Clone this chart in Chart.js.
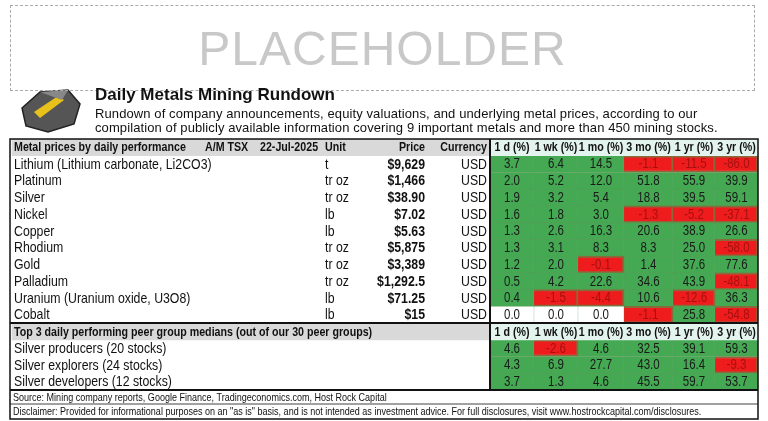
<!DOCTYPE html>
<html><head><meta charset="utf-8">
<script src="https://cdn.jsdelivr.net/npm/chart.js@4"></script>
<style>
html,body{margin:0;padding:0;background:#fff;width:768px;height:421px;overflow:hidden}
#wrap{position:absolute;left:0;top:0;width:768px;height:421px}
.ph{position:absolute;left:10px;top:5px;width:745px;height:86px;border:1.5px dashed #aaa;box-sizing:border-box;
 font:48px "Liberation Sans",Arial,sans-serif;color:#c8c8c8;text-align:center;line-height:86px;letter-spacing:1px}
.t{position:absolute;left:95px;top:85px;font:bold 17px "Liberation Sans",Arial,sans-serif;color:#111}
.s{position:absolute;left:95px;top:107px;font:13px "Liberation Sans",Arial,sans-serif;color:#111;line-height:14px;letter-spacing:0.1px}
</style></head><body>
<div id="wrap"><canvas id="c" width="768" height="421"></canvas></div>
<div class="ph">PLACEHOLDER</div>
<div class="t">Daily Metals Mining Rundown</div>
<div class="s">Rundown of company announcements, equity valuations, and underlying metal prices, according to our<br>compilation of publicly available information covering 9 important metals and more than 450 mining stocks.</div>
<script>
const metals=["Lithium (Lithium carbonate, Li2CO3)","Platinum","Silver","Nickel","Copper","Rhodium","Gold","Palladium","Uranium (Uranium oxide, U3O8)","Cobalt"];
const units=["t","tr oz","tr oz","lb","lb","tr oz","tr oz","tr oz","lb","lb"];
const prices=["$9,629","$1,466","$38.90","$7.02","$5.63","$5,875","$3,389","$1,292.5","$71.25","$15"];
const currency="USD";
const periods=["1 d (%)","1 wk (%)","1 mo (%)","3 mo (%)","1 yr (%)","3 yr (%)"];
const m1d=[3.7,2.0,1.9,1.6,1.3,1.3,1.2,0.5,0.4,0.0];
const m1wk=[6.4,5.2,3.2,1.8,2.6,3.1,2.0,4.2,-1.5,0.0];
const m1mo=[14.5,12.0,5.4,3.0,16.3,8.3,-0.1,22.6,-4.4,0.0];
const m3mo=[-1.1,51.8,18.8,-1.3,20.6,8.3,1.4,34.6,10.6,-1.1];
const m1yr=[-11.5,55.9,39.5,-5.2,38.9,25.0,37.6,43.9,-12.6,25.8];
const m3yr=[-86.0,39.9,59.1,-37.1,26.6,-58.0,77.6,-48.1,36.3,-54.8];
const peers=["Silver producers (20 stocks)","Silver explorers (24 stocks)","Silver developers (12 stocks)"];
const p1d=[4.6,4.3,3.7];
const p1wk=[-2.6,6.9,1.3];
const p1mo=[4.6,27.7,4.6];
const p3mo=[32.5,43.0,45.5];
const p1yr=[39.1,16.4,59.7];
const p3yr=[59.3,-9.3,53.7];
const header1="Metal prices by daily performance", header2="Top 3 daily performing peer group medians (out of our 30 peer groups)";
const source="Source: Mining company reports, Google Finance, Tradingeconomics.com, Host Rock Capital";
const disclaimer='Disclaimer: Provided for informational purposes on an "as is" basis, and is not intended as investment advice. For full disclosures, visit www.hostrockcapital.com/disclosures.';

const edges=[490,534,578,624,673,715,758];
const cols=[m1d,m1wk,m1mo,m3mo,m1yr,m3yr].map((m,i)=>m.concat([null],[p1d,p1wk,p1mo,p3mo,p1yr,p3yr][i]));
const rowLabels=["h1",...metals,"h2",...peers];
function rowVals(c){return [null,...cols[c]];}
const GREEN="#45a853",RED="#ee1c1c";
const datasets=[];
datasets.push({data:rowLabels.map((r,i)=>(i===0||i===11)?[12,490]:null),backgroundColor:"#d9d9d9",borderWidth:0});
datasets.push({data:rowLabels.map((r,i)=>(i===0||i===11)?[490,758]:null),backgroundColor:"#e3f3ee",borderWidth:0});
for(let c=0;c<6;c++){
 const v=rowVals(c);
 datasets.push({data:v.map(x=>x===null?null:[edges[c],edges[c+1]]),
  backgroundColor:v.map(x=>x===null?null:(x<0?RED:(x===0?"#ffffff":GREEN))),
  borderColor:v.map(x=>x===null?null:(x<0?"#8a6a3a":"#5a9a5a")),
  borderWidth:v.map(x=>x===null?0:(x<0?2:0.5))});
}
const F="'Liberation Sans',Arial,sans-serif";
const SX=0.82;
function nt(g,s,x,y,align){ // narrow text via horizontal scaling
 g.save();g.translate(x,y);g.scale(SX,1);g.textAlign=align;g.fillText(s,0,0);g.restore();}
const textPlugin={id:'txt',
 beforeDatasetsDraw(ch){const g=ch.ctx;
  g.save();g.fillStyle="#555";g.strokeStyle="#222";g.lineWidth=1.5;g.beginPath();
  g.moveTo(22,108);g.lineTo(40,92);g.lineTo(68,90);g.lineTo(80,104);g.lineTo(74,124);g.lineTo(48,132);g.lineTo(26,126);g.closePath();g.fill();g.stroke();
  g.fillStyle="#e8c21a";g.beginPath();g.moveTo(34,112);g.lineTo(58,96);g.lineTo(64,100);g.lineTo(40,118);g.closePath();g.fill();
  g.fillStyle="#888";g.beginPath();g.moveTo(40,92);g.lineTo(68,90);g.lineTo(62,100);g.closePath();g.fill();g.restore();},
 afterDatasetsDraw(ch){const g=ch.ctx,y=ch.scales.y;g.save();
  const yp=i=>y.getPixelForValue(i);
  g.textBaseline="middle";g.fillStyle="#111";
  for(let i=0;i<rowLabels.length;i++){
   const Y=yp(i)+0.5;
   if(i===0){g.font="bold 13px "+F;
     nt(g,header1,14,Y,"left");nt(g,"A/M TSX",205,Y,"left");nt(g,"22-Jul-2025",260,Y,"left");nt(g,"Unit",325,Y,"left");
     nt(g,"Price",425,Y,"right");nt(g,"Currency",487,Y,"right");}
   else if(i===11){g.font="bold 13px "+F;nt(g,header2,14,Y,"left");}
   else if(i<11){g.font="15px "+F;
     nt(g,metals[i-1],14,Y,"left");nt(g,units[i-1],325,Y,"left");
     g.font="bold 15px "+F;nt(g,prices[i-1],425,Y,"right");g.font="15px "+F;nt(g,currency,487,Y,"right");}
   else{g.font="15px "+F;nt(g,peers[i-12],14,Y,"left");}
   for(let c=0;c<6;c++){const cx=(edges[c]+edges[c+1])/2;
    if(i===0||i===11){g.font="bold 13px "+F;g.fillStyle="#111";nt(g,periods[c],cx,Y,"center");continue;}
    const v=rowVals(c)[i];g.font="14px "+F;g.fillStyle=v<0?"#a81010":"#1a1a1a";nt(g,v.toFixed(1),cx,Y,"center");g.fillStyle="#111";}
  }
  const top=yp(0)-y.height/30, hb=yp(11)-y.height/30, bot=yp(14)+y.height/30;
  g.strokeStyle="#111";g.lineWidth=1.5;
  g.strokeRect(10,top,748,421-top-2);
  g.lineWidth=2;g.beginPath();g.moveTo(490,top);g.lineTo(490,bot);g.moveTo(10,hb);g.lineTo(758,hb);g.moveTo(10,bot);g.lineTo(758,bot);g.stroke();
  g.lineWidth=0.8;g.beginPath();g.moveTo(10,bot+14);g.lineTo(758,bot+14);g.stroke();
  g.font="11px "+F;g.fillStyle="#111";
  nt(g,source,13,bot+7.5,"left");nt(g,disclaimer,13,bot+21.5,"left");
  g.restore();}
};
new Chart(document.getElementById('c'),{type:'bar',
 data:{labels:rowLabels,datasets},
 options:{indexAxis:'y',responsive:false,animation:false,devicePixelRatio:1,
  layout:{padding:{top:139,bottom:31,left:0,right:0}},
  datasets:{bar:{grouped:false,barPercentage:1,categoryPercentage:1}},
  plugins:{legend:{display:false},tooltip:{enabled:false}},
  scales:{x:{type:'linear',min:0,max:768,display:false},y:{display:false}}},
 plugins:[textPlugin]});
</script></body></html>
